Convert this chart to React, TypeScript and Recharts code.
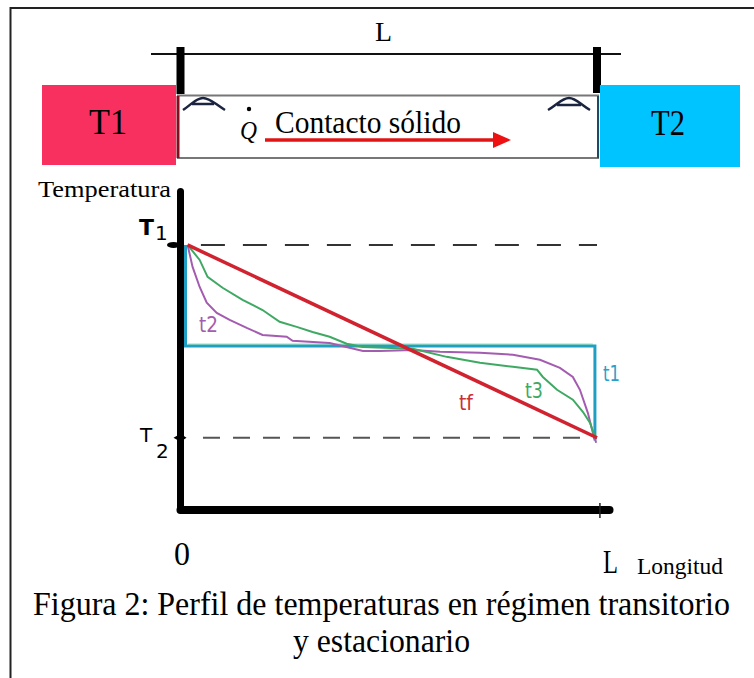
import React from "react";
import {
  ComposedChart,
  Line,
  XAxis,
  YAxis,
  ReferenceLine,
} from "recharts";

const t1Values = [
  { x: 1.2, y: 100 },
  { x: 1.2, y: 62.3 },
  { x: 99.5, y: 62.3 },
  { x: 99.5, y: 27 },
];
const t1GlowValues = [
  { x: 1.8, y: 63 },
  { x: 99, y: 63 },
];
const tfValues = [
  { x: 1.7, y: 100 },
  { x: 100, y: 28 },
];
const t2Values = [
  { x: 1.7, y: 100 }, { x: 2.9, y: 91.8 }, { x: 4.6, y: 84.3 }, { x: 6.3, y: 78.4 },
  { x: 8.7, y: 74.6 }, { x: 11.8, y: 72 }, { x: 15.9, y: 69 }, { x: 19.7, y: 66.4 },
  { x: 25.5, y: 65.7 }, { x: 26.9, y: 64.2 }, { x: 35.8, y: 63.4 }, { x: 43.8, y: 60.4 },
  { x: 47.8, y: 60.4 }, { x: 55.8, y: 60.8 }, { x: 62.3, y: 60.1 }, { x: 71.9, y: 59.7 },
  { x: 79.8, y: 59 }, { x: 86.3, y: 57.1 }, { x: 91.1, y: 54.1 }, { x: 94.2, y: 50.7 },
  { x: 95.9, y: 45.9 }, { x: 97.8, y: 37.3 }, { x: 99, y: 29.9 }, { x: 99.8, y: 26.1 },
];
const t3Values = [
  { x: 1.7, y: 100 }, { x: 4.6, y: 94.4 }, { x: 6.5, y: 88.1 }, { x: 10.1, y: 84 },
  { x: 14.9, y: 79.5 }, { x: 19.7, y: 75.7 }, { x: 23.8, y: 71.3 }, { x: 27.9, y: 69.4 },
  { x: 31.7, y: 67.5 }, { x: 35.8, y: 65.7 }, { x: 39.9, y: 63.1 }, { x: 43.8, y: 61.9 },
  { x: 55.8, y: 61.2 }, { x: 63.9, y: 58.2 }, { x: 71.9, y: 56 }, { x: 79.8, y: 54.5 },
  { x: 85.6, y: 53.4 }, { x: 87, y: 50.7 }, { x: 90.4, y: 45.9 }, { x: 94.2, y: 42.2 },
  { x: 96.6, y: 37.7 }, { x: 98.3, y: 33.6 }, { x: 99.5, y: 28.4 },
];
const xTicks = [100.7];
const yTicks = [28, 100];
const T1_VALUE = 100;
const T2_VALUE = 28;
const X_END = 100;

const serif = "'Liberation Serif', serif";
const sans = "'DejaVu Sans', sans-serif";

function Fit(props: any) {
  const { w, children, ...rest } = props;
  return (
    <text textLength={w} lengthAdjust="spacingAndGlyphs" {...rest}>
      {children}
    </text>
  );
}

function Decorations() {
  return (
    <svg
      width={754}
      height={678}
      style={{ position: "absolute", left: 0, top: 0 }}
      fontFamily={serif}
    >
      <rect x={10.5} y={8} width={800} height={720} fill="#fff" stroke="#222" strokeWidth={2} />

      <line x1={151} y1={54} x2={621} y2={54} stroke="#111" strokeWidth={2} />
      <rect x={176.5} y={47} width={8} height={47} fill="#000" />
      <rect x={593} y={47} width={8} height={46} fill="#000" />
      <Fit x={375} y={41} fontSize={27} w={17}>L</Fit>

      <rect x={42} y={85} width={134} height={80} fill="#f8305f" />
      <rect x={600} y={85} width={140} height={82} fill="#00c4ff" />
      <rect x={178} y={95.5} width={420} height={62.5} fill="#fff" stroke="#777" strokeWidth={2} />
      <line x1={178} y1={96} x2={178} y2={158} stroke="#8a0a20" strokeWidth={3} />
      <line x1={598} y1={96} x2={598} y2={158} stroke="#1d4a66" strokeWidth={2} />
      <Fit x={89} y={134} fontSize={36} w={38}>T1</Fit>
      <Fit x={651} y={135} fontSize={36} w={34}>T2</Fit>

      <path d="M183 110 C192 104 196 98 203 98 C210 98 215 104 225 110 M192 104 L214 104" fill="none" stroke="#1b2540" strokeWidth={2.5} />
      <path d="M548 110 C557 105 562 98 569 98 C576 98 581 105 590 110 M557 105 L581 105" fill="none" stroke="#1b2540" strokeWidth={2.5} />

      <circle cx={249} cy={109} r={2.2} fill="#000" />
      <Fit x={240} y={139} fontSize={25} fontStyle="italic" w={17}>Q</Fit>
      <Fit x={275} y={133} fontSize={31} w={186}>Contacto sólido</Fit>
      <line x1={265} y1={140} x2={496} y2={140} stroke="#e01414" strokeWidth={3.5} />
      <path d="M493 132 L511 140 L493 148 Z" fill="#ee1111" />

      <Fit x={38} y={197} fontSize={23} w={133}>Temperatura</Fit>
      <text x={139} y={235} fontSize={22} fontWeight="bold" fontFamily={sans}>T</text>
      <text x={155} y={240} fontSize={20} fontFamily={sans}>1</text>
      <text x={140} y={442} fontSize={20} fontFamily={sans}>T</text>
      <text x={156} y={458} fontSize={20} fontFamily={sans}>2</text>

      <Fit x={174} y={565} fontSize={33} w={16}>0</Fit>
      <Fit x={603} y={573} fontSize={33} w={15}>L</Fit>
      <Fit x={637} y={574} fontSize={24} w={86}>Longitud</Fit>

      <Fit x={33} y={615} fontSize={33} w={697}>
        Figura 2: Perfil de temperaturas en régimen transitorio
      </Fit>
      <Fit x={293} y={652} fontSize={33} w={177}>y estacionario</Fit>

      <Fit x={199} y={332} fontSize={22} w={19} fill="#a45cb0" fontFamily={sans}>t2</Fit>
      <Fit x={525} y={398} fontSize={22} w={18} fill="#3fa963" fontFamily={sans}>t3</Fit>
      <Fit x={603} y={381} fontSize={22} w={17} fill="#2a9fc9" fontFamily={sans}>t1</Fit>
      <Fit x={459} y={410} fontSize={22} w={14} fill="#c8303a" fontFamily={sans}>tf</Fit>
    </svg>
  );
}

const YTick = (props: any) => {
  const { x, y, payload } = props;
  return payload.value === T1_VALUE ? (
    <ellipse cx={x - 7} cy={y} rx={6.5} ry={3} fill="#000" />
  ) : (
    <path d={`M${x - 7} ${y} L${x} ${y - 4} L${x + 6} ${y} L${x} ${y + 4} Z`} fill="#000" />
  );
};

const XTick = (props: any) => {
  const { x, y } = props;
  return <line x1={x} y1={y - 7} x2={x} y2={y + 8} stroke="#222" strokeWidth={1.5} />;
};

export default function App() {
  return (
    <div style={{ position: "absolute", left: 0, top: 0, width: 754, height: 678 }}>
      <Decorations />
      <div style={{ position: "absolute", left: 0, top: 0 }}>
        <ComposedChart
          width={754}
          height={678}
          margin={{ top: 191.4, right: 144.5, bottom: 148, left: 160.5 }}
        >
          <XAxis
            type="number"
            dataKey="x"
            domain={[0, 103]}
            ticks={xTicks}
            tick={<XTick />}
            tickLine={false}
            tickSize={0}
            tickMargin={0}
            interval={0}
            axisLine={{ stroke: "#000", strokeWidth: 8, strokeLinecap: "round" }}
            height={20}
            allowDataOverflow
          />
          <YAxis
            type="number"
            dataKey="y"
            domain={[1, 120]}
            ticks={yTicks}
            tick={<YTick />}
            tickLine={false}
            tickSize={0}
            tickMargin={0}
            interval={0}
            axisLine={{ stroke: "#000", strokeWidth: 7, strokeLinecap: "round" }}
            width={20}
            allowDataOverflow
          />
          <ReferenceLine
            segment={[{ x: 4.9, y: T1_VALUE }, { x: X_END, y: T1_VALUE }]}
            stroke="#333"
            strokeWidth={2}
            strokeDasharray="24 18"
          />
          <ReferenceLine
            segment={[{ x: 5.4, y: T2_VALUE }, { x: X_END, y: T2_VALUE }]}
            stroke="#555"
            strokeWidth={2}
            strokeDasharray="17 13"
          />
          <Line data={t1GlowValues} dataKey="y" stroke="#bdf0a8" strokeWidth={1.5} dot={false} isAnimationActive={false} />
          <Line data={t1Values} dataKey="y" stroke="#1f9fc4" strokeWidth={3} dot={false} isAnimationActive={false} />
          <Line data={t2Values} dataKey="y" stroke="#a45cb0" strokeWidth={2} dot={false} isAnimationActive={false} />
          <Line data={t3Values} dataKey="y" stroke="#3fa963" strokeWidth={2} dot={false} isAnimationActive={false} />
          <Line data={tfValues} dataKey="y" stroke="#d0232f" strokeWidth={3.5} dot={false} isAnimationActive={false} />
        </ComposedChart>
      </div>
    </div>
  );
}
